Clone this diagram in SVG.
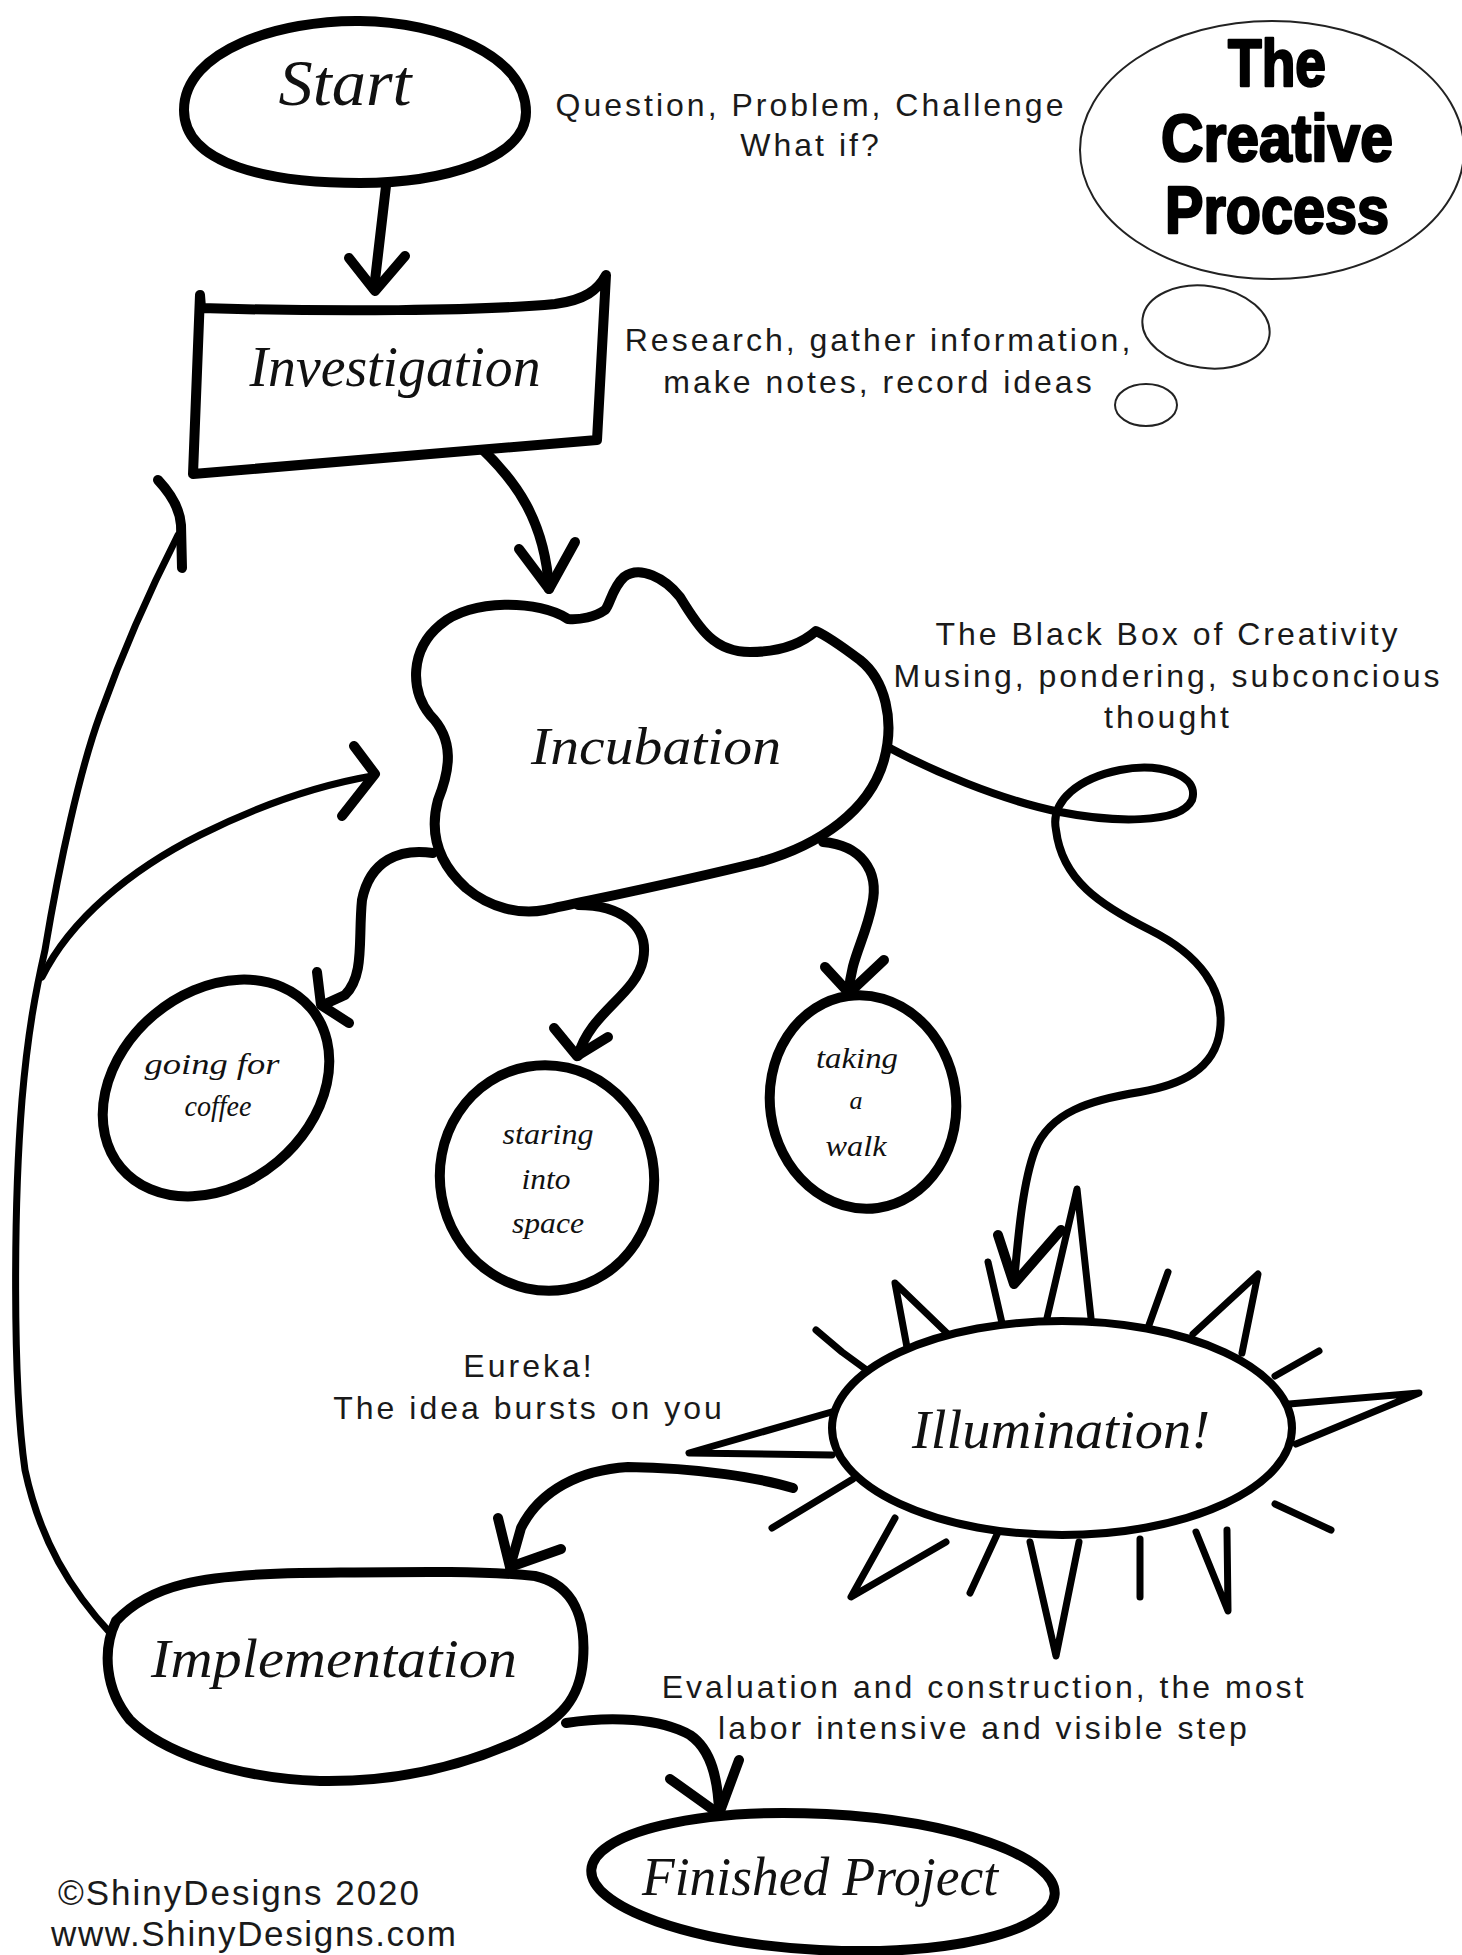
<svg xmlns="http://www.w3.org/2000/svg" width="1462" height="1955" viewBox="0 0 1462 1955">
<style>
.bg{fill:#ffffff}
.thick{fill:none;stroke:#000;stroke-width:10;stroke-linecap:round;stroke-linejoin:round}
.mid{fill:none;stroke:#000;stroke-width:8;stroke-linecap:round;stroke-linejoin:round}
.thin{fill:none;stroke:#000;stroke-width:7;stroke-linecap:round;stroke-linejoin:round}
.node{fill:#fff;stroke:#000;stroke-width:10;stroke-linejoin:round}
.bubble{fill:#fff;stroke:#222;stroke-width:2}
.hand{font-family:"Liberation Serif","DejaVu Serif",serif;font-style:italic;fill:#111;text-anchor:middle}
.note{font-family:"Liberation Sans",Arial,sans-serif;font-size:32px;letter-spacing:3px;fill:#1a1a1a;text-anchor:middle}
.title{font-family:"Liberation Sans",Arial,sans-serif;font-weight:bold;font-size:66px;fill:#000;stroke:#000;stroke-width:2.5;stroke-linejoin:round;text-anchor:middle}
.copy{font-family:"Liberation Sans",Arial,sans-serif;font-size:35px;fill:#1a1a1a}
</style>
<rect class="bg" x="0" y="0" width="1462" height="1955"/>

<g id="connectors">
  <!-- Start -> Investigation -->
  <path class="thick" d="M386,186 L374,289"/>
  <path class="thick" d="M349,258 L375,291 L405,256"/>
  <!-- Investigation -> Incubation -->
  <path class="thick" d="M480,447 C515,480 545,520 549,589"/>
  <path class="thick" d="M519,549 L549,589 L575,542"/>
  <!-- Incubation -> going for coffee -->
  <path class="thick" d="M433,853 C400,848 370,860 362,900 C358,940 365,975 345,995 L323,1005"/>
  <path class="thick" d="M317,972 L321,1005 L349,1023"/>
  <!-- Incubation -> staring into space -->
  <path class="thick" d="M578,905 C620,905 650,925 643,960 C636,995 590,1012 578,1056"/>
  <path class="thick" d="M554,1028 L577,1056 L608,1037"/>
  <!-- Incubation -> taking a walk -->
  <path class="thick" d="M823,842 C860,845 880,870 872,905 C865,940 850,960 849,993"/>
  <path class="thick" d="M825,967 L849,993 L884,960"/>
  <!-- Incubation loop -> Illumination -->
  <path class="mid" d="M884,745 C930,770 1000,800 1060,812 C1110,822 1180,825 1192,800 C1200,775 1160,762 1120,770 C1080,778 1050,800 1056,830 C1062,880 1100,905 1150,930 C1200,955 1225,990 1220,1030 C1215,1070 1180,1085 1140,1092 C1090,1100 1050,1112 1035,1150 C1022,1185 1018,1240 1014,1282"/>
  <path class="thick" d="M998,1235 L1014,1284 L1061,1230"/>
  <!-- Illumination -> Implementation -->
  <path class="thick" d="M793,1488 C760,1478 700,1468 628,1467 C580,1470 540,1490 521,1528 L510,1567"/>
  <path class="thick" d="M498,1518 L510,1567 L561,1549"/>
  <!-- Implementation -> Investigation (long loop) -->
  <path class="thin" d="M112,1635 C70,1590 40,1540 25,1470 C12,1380 14,1200 22,1100 C28,1030 36,990 45,950 C60,860 80,770 100,715 C125,645 150,590 178,535"/>
  <path class="thick" d="M158,480 C172,495 180,510 181,525 L182,568"/>
  <!-- branch -> Incubation -->
  <path class="thin" d="M42,977 C70,920 130,870 200,835 C260,805 320,785 372,776"/>
  <path class="thick" d="M354,746 L375,774 L342,816"/>
  <!-- Implementation -> Finished Project -->
  <path class="thick" d="M566,1723 C610,1716 660,1718 690,1735 C712,1750 718,1780 719,1812"/>
  <path class="thick" d="M670,1779 L719,1814 L739,1760"/>
</g>

<g id="title">
  <ellipse class="bubble" cx="1272" cy="150" rx="192" ry="129"/>
  <ellipse class="bubble" cx="1206" cy="327" rx="64" ry="41" transform="rotate(8 1206 327)"/>
  <ellipse class="bubble" cx="1146" cy="405" rx="31" ry="21"/>
  <text class="title" x="1277" y="86" textLength="98" lengthAdjust="spacingAndGlyphs">The</text>
  <text class="title" x="1277" y="161" textLength="232" lengthAdjust="spacingAndGlyphs">Creative</text>
  <text class="title" x="1277" y="233" textLength="224" lengthAdjust="spacingAndGlyphs">Process</text>
</g>

<g id="start">
  <path class="node" d="M184,110 C184,50 280,20 360,21 C440,22 526,55 526,112 C526,160 440,183 360,183 C270,183 184,165 184,110 Z"/>
  <text class="hand" x="345" y="105" font-size="66" textLength="133" lengthAdjust="spacingAndGlyphs">Start</text>
</g>

<g id="investigation">
  <path class="node" d="M193,474 L200,295 L201,308 C330,312 480,311 555,304 C585,300 598,290 606,275 L597,440 Z"/>
  <text class="hand" x="395" y="386" font-size="56" textLength="291" lengthAdjust="spacingAndGlyphs">Investigation</text>
</g>

<g id="incubation">
  <path class="node" d="M568,619 C540,600 470,598 440,625 C410,650 410,690 430,715 C455,740 450,770 438,800 C430,830 435,860 466,888 C490,908 520,915 545,910 C600,898 680,882 760,862 C820,845 870,810 884,760 C895,720 885,680 860,660 C840,645 825,635 816,631 C800,645 780,652 750,652 C715,652 700,630 680,597 C665,578 640,565 624,577 C612,588 610,605 605,610 C595,617 580,620 568,619 Z"/>
  <text class="hand" x="656" y="764" font-size="52" textLength="250" lengthAdjust="spacingAndGlyphs">Incubation</text>
</g>

<g id="coffee">
  <ellipse class="node" cx="216" cy="1088" rx="124" ry="96" transform="rotate(-40 216 1088)"/>
  <text class="hand" x="212" y="1074" font-size="30" textLength="135" lengthAdjust="spacingAndGlyphs">going for</text>
  <text class="hand" x="218" y="1116" font-size="30" textLength="67" lengthAdjust="spacingAndGlyphs">coffee</text>
</g>

<g id="staring">
  <ellipse class="node" cx="547" cy="1178" rx="107" ry="113" transform="rotate(-10 547 1178)"/>
  <text class="hand" x="548" y="1144" font-size="30" textLength="91" lengthAdjust="spacingAndGlyphs">staring</text>
  <text class="hand" x="546" y="1189" font-size="30" textLength="49" lengthAdjust="spacingAndGlyphs">into</text>
  <text class="hand" x="548" y="1233" font-size="30" textLength="72" lengthAdjust="spacingAndGlyphs">space</text>
</g>

<g id="walk">
  <ellipse class="node" cx="863" cy="1102" rx="93" ry="107" transform="rotate(-8 863 1102)"/>
  <text class="hand" x="857" y="1068" font-size="30" textLength="82" lengthAdjust="spacingAndGlyphs">taking</text>
  <text class="hand" x="856" y="1109" font-size="26">a</text>
  <text class="hand" x="856" y="1156" font-size="30" textLength="61" lengthAdjust="spacingAndGlyphs">walk</text>
</g>

<g id="illumination">
  <g class="thin">
    <path d="M909,1358 L895,1283 L953,1339"/>
    <path d="M988,1262 L1002,1323"/>
    <path d="M1047,1318 L1077,1189 L1091,1318"/>
    <path d="M1168,1272 L1149,1325"/>
    <path d="M1193,1334 L1258,1274 L1242,1353"/>
    <path d="M1319,1351 L1275,1376"/>
    <path d="M1289,1404 L1419,1393 L1296,1444"/>
    <path d="M1275,1504 L1331,1530"/>
    <path d="M1196,1532 L1228,1611 L1227,1530"/>
    <path d="M1140,1539 L1140,1597"/>
    <path d="M1030,1542 L1056,1656 L1079,1542"/>
    <path d="M1000,1528 L970,1593"/>
    <path d="M895,1518 L851,1597 L946,1542"/>
    <path d="M853,1479 L772,1528"/>
    <path d="M842,1409 L689,1453 L832,1455"/>
    <path d="M816,1330 L842,1352 L879,1379"/>
  </g>
  <ellipse cx="1062" cy="1428" rx="230" ry="107" fill="#fff" stroke="#000" stroke-width="8"/>
  <text class="hand" x="1061" y="1448" font-size="54" textLength="298" lengthAdjust="spacingAndGlyphs">Illumination!</text>
</g>

<g id="implementation">
  <path class="node" d="M116,1621 C150,1585 200,1575 300,1573 C400,1572 480,1570 535,1576 C575,1585 586,1620 583,1660 C580,1700 560,1720 520,1740 C450,1772 380,1782 320,1781 C230,1778 160,1750 130,1720 C105,1690 102,1650 116,1621 Z"/>
  <text class="hand" x="334" y="1677" font-size="54" textLength="366" lengthAdjust="spacingAndGlyphs">Implementation</text>
</g>

<g id="finished">
  <ellipse class="node" cx="823" cy="1882" rx="232" ry="68" transform="rotate(3 823 1882)"/>
  <text class="hand" x="820" y="1895" font-size="54" textLength="356" lengthAdjust="spacingAndGlyphs">Finished Project</text>
</g>

<g id="notes">
  <text class="note" x="811" y="116">Question, Problem, Challenge</text>
  <text class="note" x="811" y="156">What if?</text>
  <text class="note" x="879" y="351">Research, gather information,</text>
  <text class="note" x="879" y="393">make notes, record ideas</text>
  <text class="note" x="1168" y="645">The Black Box of Creativity</text>
  <text class="note" x="1168" y="687">Musing, pondering, subconcious</text>
  <text class="note" x="1168" y="728">thought</text>
  <text class="note" x="529" y="1377">Eureka!</text>
  <text class="note" x="529" y="1419">The idea bursts on you</text>
  <text class="note" x="984" y="1698">Evaluation and construction, the most</text>
  <text class="note" x="984" y="1739">labor intensive and visible step</text>
  <text class="copy" x="58" y="1905" textLength="361" lengthAdjust="spacing">©ShinyDesigns 2020</text>
  <text class="copy" x="51" y="1946" textLength="405" lengthAdjust="spacing">www.ShinyDesigns.com</text>
</g>
</svg>
